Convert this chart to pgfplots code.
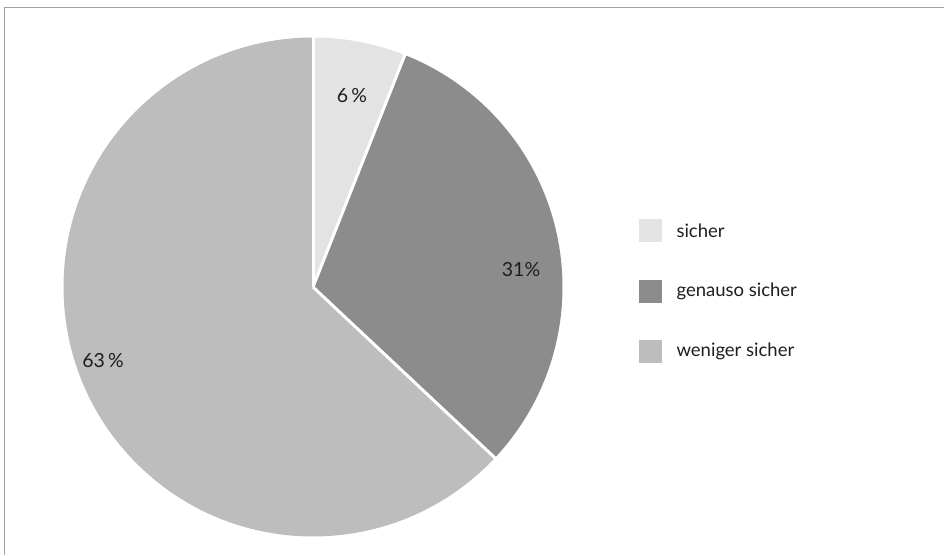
\documentclass[border=0pt]{standalone}
\usepackage{fontspec}
\setmainfont{Lato}
\usepackage{pgfplots}
\pgfplotsset{compat=1.18}
\usepackage{pgfplotstable}

\definecolor{cSicher}{HTML}{E3E3E3}
\definecolor{cGenauso}{HTML}{8C8C8C}
\definecolor{cWeniger}{HTML}{BCBDBC}
\definecolor{cText}{HTML}{1E1E1E}
\definecolor{cFrame}{HTML}{A0A0A0}

% shares in percent, clockwise from 12 o'clock
\pgfplotstableread{
label share
sicher 6
{genauso sicher} 31
{weniger sicher} 63
}\piedata

\begin{document}
\begin{tikzpicture}
\pgfplotstablegetelem{0}{share}\of\piedata \let\va\pgfplotsretval
\pgfplotstablegetelem{1}{share}\of\piedata \let\vb\pgfplotsretval
\pgfplotstablegetelem{2}{share}\of\piedata \let\vc\pgfplotsretval
\pgfmathsetmacro\aA{90}
\pgfmathsetmacro\aB{\aA-3.6*\va}
\pgfmathsetmacro\aC{\aB-3.6*\vb}
\pgfmathsetmacro\aD{\aC-3.6*\vc}
\def\R{249.5pt}
\begin{axis}[
    width=944pt, height=555pt,
    scale only axis,
    xmin=0, xmax=944, ymin=0, ymax=555,
    hide axis,
    clip=false,
  ]
  % corners of the canvas
  \coordinate (ll) at (axis cs:0,0);
  \coordinate (ur) at (axis cs:944,555);
  % frame (top and left only)
  \draw[cFrame, line width=1.5pt] (axis cs:4.5,0) -- (axis cs:4.5,547.5) -- (axis cs:944,547.5);

  % slices
  \fill[cSicher]  (axis cs:313,268) -- ++(\aA:\R) arc[start angle=\aA, end angle=\aB, radius=\R] -- cycle;
  \fill[cGenauso] (axis cs:313,268) -- ++(\aB:\R) arc[start angle=\aB, end angle=\aC, radius=\R] -- cycle;
  \fill[cWeniger] (axis cs:313,268) -- ++(\aC:\R) arc[start angle=\aC, end angle=\aD, radius=\R] -- cycle;
  % white separators
  \draw[white, line width=3pt] (axis cs:313,268) -- ++(\aA:\R+1pt);
  \draw[white, line width=3pt] (axis cs:313,268) -- ++(\aB:\R+1pt);
  \draw[white, line width=3pt] (axis cs:313,268) -- ++(\aC:\R+1pt);

  % value labels
  \node[cText, font=\fontsize{19.5}{21}\selectfont] at (axis cs:352,459) {\va\,\%};
  \node[cText, font=\fontsize{19.5}{21}\selectfont] at (axis cs:521,285) {\vb\%};
  \node[cText, font=\fontsize{19.5}{21}\selectfont] at (axis cs:103,194) {\vc\,\%};

  % legend
  \fill[cSicher]  (axis cs:639,336) rectangle (axis cs:662,313);
  \fill[cGenauso] (axis cs:639,275) rectangle (axis cs:662,252);
  \fill[cWeniger] (axis cs:639,215) rectangle (axis cs:662,192);
  \node[cText, anchor=west, font=\fontsize{18.5}{20}\selectfont] at (axis cs:673,324.5) {sicher};
  \node[cText, anchor=west, font=\fontsize{18.5}{20}\selectfont] at (axis cs:673,263.5) {genauso sicher};
  \node[cText, anchor=west, font=\fontsize{18.5}{20}\selectfont] at (axis cs:673,203.5) {weniger sicher};
\end{axis}
\pgfresetboundingbox
\useasboundingbox (ll) rectangle (ur);
\end{tikzpicture}
\end{document}
